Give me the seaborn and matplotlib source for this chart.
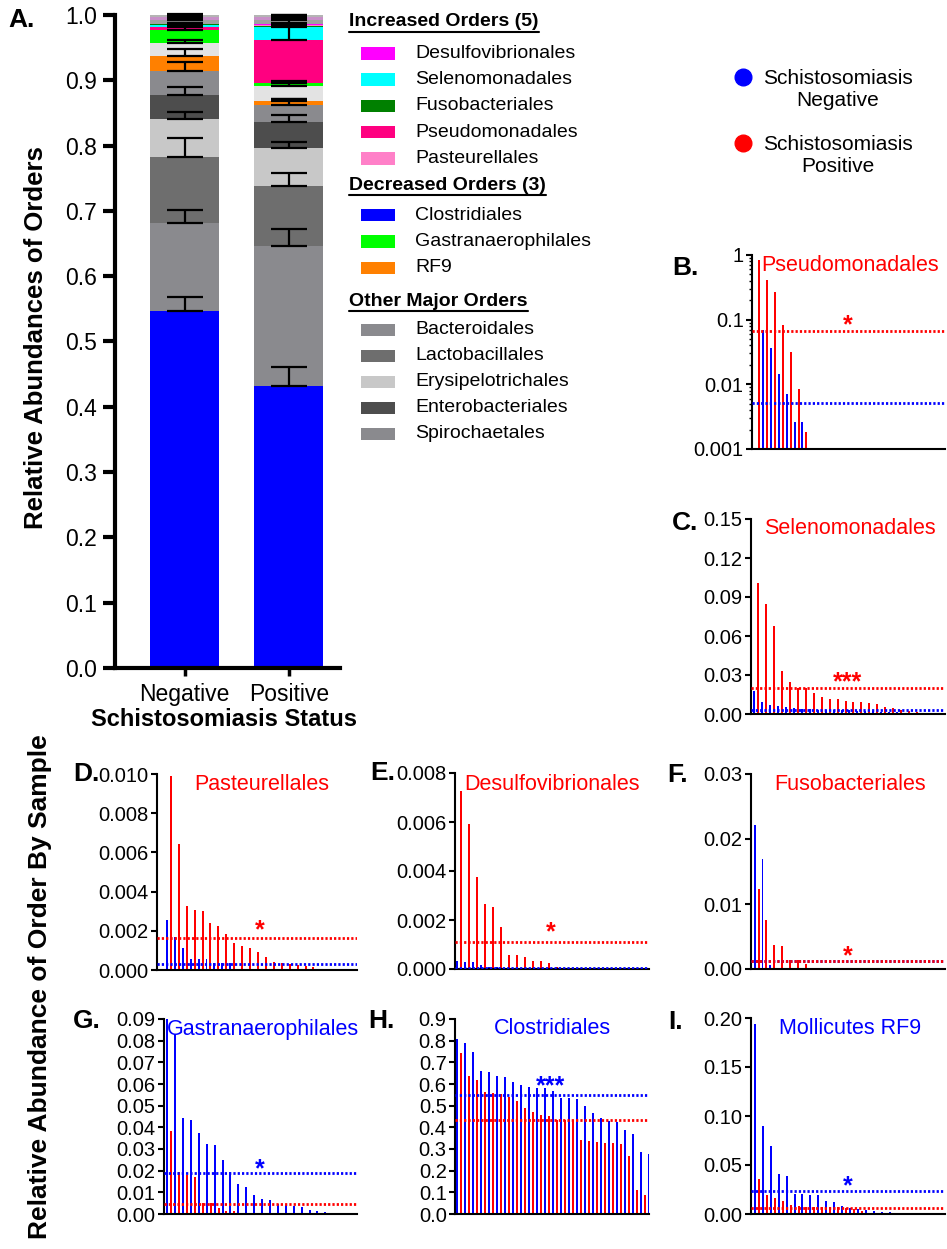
import numpy as np
import pandas as pd
import matplotlib
matplotlib.use("Agg")
import matplotlib.pyplot as plt
import seaborn as sns
from matplotlib.lines import Line2D
from matplotlib.patches import Rectangle
from matplotlib.ticker import FixedLocator, FixedFormatter, FormatStrFormatter, NullFormatter, LogLocator

W, H = 947, 1249
BLUE = "#0000ff"
RED = "#ff0000"

status = ["Negative", "Positive"]

# panel A: mean relative abundance of each order, stacked bottom -> top
orders = ["Clostridiales", "Bacteroidales", "Lactobacillales", "Erysipelotrichales",
          "Enterobacteriales", "Spirochaetales", "RF9", "Other", "Gastranaerophilales",
          "Pseudomonadales", "Selenomonadales", "Fusobacteriales", "Pasteurellales",
          "Desulfovibrionales", "Minor 1", "Minor 2", "Minor 3"]
neg_mean = [0.547, 0.135, 0.100, 0.058, 0.037, 0.037, 0.0235, 0.020, 0.019, 0.0052,
            0.0028, 0.0012, 0.00033, 0.00005, 0.006, 0.005, 0.003]
pos_mean = [0.432, 0.215, 0.091, 0.058, 0.040, 0.026, 0.0065, 0.023, 0.0045, 0.066,
            0.0197, 0.0013, 0.00165, 0.0011, 0.006, 0.005, 0.003]
neg_sem = [0.021, 0.020, 0.030, 0.011, 0.013, 0.014, 0.010, 0.004, 0.006, 0.004,
           0.003, 0.002, 0.0005, 0.0001, 0.003, 0.002, 0.001]
pos_sem = [0.029, 0.026, 0.020, 0.009, 0.011, 0.009, 0.003, 0.004, 0.003, 0.032,
           0.006, 0.002, 0.001, 0.001, 0.003, 0.002, 0.001]
order_colors = ["#0000ff", "#8a8a8e", "#6e6e6e", "#c8c8c8", "#4d4d4d", "#8a8a8e",
                "#ff8000", "#e3e3e3", "#00ff00", "#ff0080", "#00ffff", "#008000",
                "#ff80c8", "#ff00ff", "#a0a0a0", "#c890c8", "#b4b4b4"]

# legend of panel A
increased = ["Desulfovibrionales", "Selenomonadales", "Fusobacteriales", "Pseudomonadales", "Pasteurellales"]
decreased = ["Clostridiales", "Gastranaerophilales", "RF9"]
other_major = ["Bacteroidales", "Lactobacillales", "Erysipelotrichales", "Enterobacteriales", "Spirochaetales"]

# panels B-I: per-sample abundances, sorted (negative / positive)
pseudo_neg = [np.nan, 0.0695, 0.0362, 0.0144, 0.00706, 0.00258, 0.00257]
pseudo_pos = [0.837, 0.411, 0.272, 0.083, 0.0314, 0.00853, 0.00181]

seleno_neg = [0.0174, 0.0090, 0.0067, 0.0062, 0.0054, 0.0044, 0.0038, 0.0038, 0.0033, 0.0033,
              0.0030, 0.0028, 0.0028, 0.0025, 0.0022, 0.0020, 0.0018, 0.0015, 0.0012, 0.0010,
              0.0008, 0.0006, 0.0004, 0.0002]
seleno_pos = [0.101, 0.0846, 0.0674, 0.0333, 0.0244, 0.0200, 0.0197, 0.0160, 0.0130, 0.0118,
              0.0115, 0.0103, 0.0095, 0.0092, 0.0082, 0.0080, 0.0054, 0.0046, 0.0030, 0.0020,
              0.0018, 0.0008, 0.0003]

pasteur_neg = [0.00256, 0.0017, 0.0011, 0.00056, 0.00055, 0.00055, 0.00034, 0.00034, 0.00034]
pasteur_pos = [0.00988, 0.00644, 0.00324, 0.00308, 0.0030, 0.00239, 0.00227, 0.00182, 0.0014,
               0.00123, 0.0011, 0.00094, 0.00068, 0.00043, 0.00034, 0.0003, 0.00027, 0.00022, 0.00015]

desulfo_neg = [0.00031, 0.00029, 0.00027, 0.00018, 0.00008, 0.00007, 0.00004, 0.00004, 0.00003,
               0.00003, 0.00002, 0.00002, 0.00002, 0.00002, 0.00002, 0.00002, 0.00002, 0.00002,
               0.00002, 0.00002, 0.00002, 0.00002, 0.00002, 0.00002]
desulfo_pos = [0.00728, 0.0059, 0.00377, 0.00267, 0.00252, 0.0017, 0.00056, 0.00056, 0.00048,
               0.00033, 0.00033, 0.00024, 0.00008]

fuso_neg = [0.0222, 0.0170, 0.00067]
fuso_pos = [0.0123, 0.00754, 0.00374, 0.00349, 0.00144, 0.00144, 0.0008]

gastro_neg = [0.090, 0.083, 0.0442, 0.0435, 0.0373, 0.0323, 0.0320, 0.0250, 0.0194, 0.0138,
              0.0126, 0.0088, 0.0069, 0.0063, 0.0045, 0.0040, 0.0037, 0.0032, 0.0020, 0.0014, 0.0008]
gastro_pos = [0.0384, 0.0194, 0.0178, 0.0171, 0.0051, 0.0051, 0.0029, 0.0014, 0.0014, 0.0005]

clost_neg = [0.808, 0.790, 0.746, 0.660, 0.657, 0.637, 0.634, 0.608, 0.596, 0.585, 0.582, 0.582,
             0.568, 0.535, 0.535, 0.531, 0.500, 0.465, 0.445, 0.427, 0.424, 0.386, 0.370, 0.287, 0.275]
clost_pos = [0.745, 0.637, 0.619, 0.564, 0.558, 0.553, 0.538, 0.522, 0.487, 0.472, 0.458, 0.453,
             0.436, 0.436, 0.436, 0.340, 0.336, 0.333, 0.329, 0.327, 0.324, 0.267, 0.110, 0.090]

rf9_neg = [0.194, 0.0895, 0.069, 0.0412, 0.0384, 0.0207, 0.0201, 0.0194, 0.0194, 0.0133, 0.0119,
           0.0082, 0.0058, 0.0051, 0.0044, 0.0030, 0.0024, 0.0020, 0.0014, 0.0010, 0.0007]
rf9_pos = [0.0357, 0.0194, 0.0167, 0.0136, 0.0088, 0.0078, 0.0075, 0.0075, 0.0068, 0.0068,
           0.0068, 0.0058, 0.0051, 0.0034]

sns.set_style("ticks")
plt.rcParams["font.family"] = ["Liberation Sans", "DejaVu Sans"]
plt.rcParams["axes.linewidth"] = 1.5
for key in ["axes.edgecolor", "xtick.color", "ytick.color", "text.color", "axes.labelcolor"]:
    plt.rcParams[key] = "black"


def px(x, y):
    return x / W, 1 - y / H


def box(l, t, r, b):
    return [l / W, 1 - b / H, (r - l) / W, (b - t) / H]


fig = plt.figure(figsize=(W / 100, H / 100), dpi=100)

# ---------------- panel A ----------------
ax = fig.add_axes(box(115, 15, 340, 668))
neg_top = np.cumsum(neg_mean)
pos_top = np.cumsum(pos_mean)
# draw cumulative bars tallest first so each segment shows
for i in range(len(orders) - 1, -1, -1):
    sns.barplot(x=status, y=[neg_top[i], pos_top[i]], color=order_colors[i], width=0.66,
                saturation=1, errorbar=None, linewidth=0, ax=ax)
for i in range(len(orders)):
    ax.errorbar([0, 1], [neg_top[i], pos_top[i]],
                yerr=[[0, 0], [neg_sem[i], pos_sem[i]]], fmt="none", ecolor="black",
                elinewidth=1.6, capsize=13, capthick=1.6, zorder=5, clip_on=False)
ax.set_xlim(-0.666, 1.49)
ax.set_ylim(0, 1.0)
ax.yaxis.set_major_locator(FixedLocator(np.arange(0, 1.01, 0.1)))
ax.yaxis.set_major_formatter(FormatStrFormatter("%.1f"))
ax.tick_params(axis="y", labelsize=16.5, length=9, width=3, pad=4)
ax.tick_params(axis="x", labelsize=16.5, length=6, width=2.5, pad=5)
for s in ["left", "bottom"]:
    ax.spines[s].set_linewidth(3)
sns.despine(ax=ax)
ax.set_xlabel("")
ax.set_ylabel("")
fig.text(*px(224, 720), "Schistosomiasis Status", ha="center", va="center",
         fontsize=17, fontweight="bold")
fig.text(*px(36, 338), "Relative Abundances of Orders", ha="center", va="center",
         rotation=90, fontsize=18.5, fontweight="bold")
fig.text(*px(8, 20), "A.", ha="left", va="center", fontsize=19, fontweight="bold")

# legend for panel A
fig.canvas.draw()
renderer = fig.canvas.get_renderer()


def header(y, txt):
    t = fig.text(*px(349, y), txt, ha="left", va="center", fontsize=14, fontweight="bold")
    bb = t.get_window_extent(renderer=renderer)
    yl = 1 - (y + 10) / H
    fig.add_artist(Line2D([349 / W, bb.x1 / W], [yl, yl], color="black", lw=1.5,
                          transform=fig.transFigure))


def item(y, name, color):
    fig.add_artist(Rectangle(px(361, y + 6.3), 34 / W, 12.6 / H, color=color, lw=0,
                             transform=fig.transFigure))
    fig.text(*px(415, y), name, ha="left", va="center", fontsize=14)


header(22, "Increased Orders (5)")
for k, name in enumerate(increased):
    item(53.5 + 26.2 * k, name, order_colors[orders.index(name)])
header(185, "Decreased Orders (3)")
for k, name in enumerate(decreased):
    item(215 + 26.5 * k, name, order_colors[orders.index(name)])
header(301, "Other Major Orders")
for k, name in enumerate(other_major):
    item(330 + 26 * k, name, order_colors[orders.index(name)])

# group legend on the right
for y, col, txt in [(77, BLUE, "Schistosomiasis\nNegative"), (143, RED, "Schistosomiasis\nPositive")]:
    fig.add_artist(Line2D([743 / W], [1 - y / H], marker="o", ms=12, color=col, lw=0,
                          transform=fig.transFigure))
    fig.text(*px(838, y + 13), txt, ha="center", va="center", fontsize=15, linespacing=1.2)

# ---------------- panels B-I ----------------
panels = [
    dict(label="B.", lpos=(672, 268), title="Pseudomonadales", tpos=(850, 265), col=RED,
         neg=pseudo_neg, pos=pseudo_pos, order="Pseudomonadales", box=(752, 255, 945, 449),
         left=-0.75, log=True, ylim=(0.001, 1), ticks=[0.001, 0.01, 0.1, 1],
         fmt=["0.001", "0.01", "0.1", "1"], star="*", sy=0.103),
    dict(label="C.", lpos=(672, 523), title="Selenomonadales", tpos=(850, 529), col=RED,
         neg=seleno_neg, pos=seleno_pos, order="Selenomonadales", box=(751, 519, 945, 714),
         left=-0.75, ylim=(0, 0.15), ticks=np.arange(0, 0.151, 0.03), fmt="%.2f",
         star="***", sy=0.030),
    dict(label="D.", lpos=(73, 774), title="Pasteurellales", tpos=(262, 784), col=RED,
         neg=pasteur_neg, pos=pasteur_pos, order="Pasteurellales", box=(157, 774, 357, 970),
         left=-2.5, ylim=(0, 0.010), ticks=np.arange(0, 0.0101, 0.002), fmt="%.3f",
         star="*", sy=0.0024),
    dict(label="E.", lpos=(370, 773), title="Desulfovibrionales", tpos=(552, 784), col=RED,
         neg=desulfo_neg, pos=desulfo_pos, order="Desulfovibrionales", box=(455, 773, 649, 969),
         left=-0.4, ylim=(0, 0.008), ticks=np.arange(0, 0.0081, 0.002), fmt="%.3f",
         star="*", sy=0.00177),
    dict(label="F.", lpos=(667, 775), title="Fusobacteriales", tpos=(850, 784), col=RED,
         neg=fuso_neg, pos=fuso_pos, order="Fusobacteriales", box=(751, 774, 945, 969),
         left=-0.9, ylim=(0, 0.03), ticks=np.arange(0, 0.031, 0.01), fmt="%.2f",
         star="*", sy=0.003),
    dict(label="G.", lpos=(73, 1021), title="Gastranaerophilales", tpos=(263, 1029), col=BLUE,
         neg=gastro_neg, pos=gastro_pos, order="Gastranaerophilales", box=(164, 1019, 357, 1214),
         left=-0.8, ylim=(0, 0.09), ticks=np.arange(0, 0.091, 0.01), fmt="%.2f",
         star="*", sy=0.024),
    dict(label="H.", lpos=(368, 1021), title="Clostridiales", tpos=(552, 1029), col=BLUE,
         neg=clost_neg, pos=clost_pos, order="Clostridiales", box=(455, 1019, 649, 1214),
         left=-0.4, ylim=(0, 0.9), ticks=np.arange(0, 0.91, 0.1), fmt="%.1f",
         star="***", sy=0.622),
    dict(label="I.", lpos=(668, 1022), title="Mollicutes RF9", tpos=(850, 1029), col=BLUE,
         neg=rf9_neg, pos=rf9_pos, order="RF9", box=(751, 1018, 945, 1214),
         left=-1.0, ylim=(0, 0.20), ticks=np.arange(0, 0.201, 0.05), fmt="%.2f",
         star="*", sy=0.0357),
]

for p in panels:
    bx = fig.add_axes(box(*p["box"]))
    neg = np.asarray(p["neg"], dtype=float)
    pos = np.asarray(p["pos"], dtype=float)
    df = pd.DataFrame({
        "sample": np.r_[np.arange(len(neg)) * 2, np.arange(len(pos)) * 2 + 1],
        "abundance": np.r_[neg, pos],
        "status": ["Negative"] * len(neg) + ["Positive"] * len(pos),
    }).dropna()
    sns.barplot(data=df, x="sample", y="abundance", hue="status",
                palette={"Negative": BLUE, "Positive": RED}, native_scale=True,
                width=0.5, dodge=False, legend=False, saturation=1, errorbar=None,
                linewidth=0, ax=bx)
    k = orders.index(p["order"])
    bx.axhline(neg_mean[k], color=BLUE, lw=2, ls=(0, (0.8, 0.75)), zorder=4)
    bx.axhline(pos_mean[k], color=RED, lw=2, ls=(0, (0.8, 0.75)), zorder=4)
    if p.get("log"):
        bx.set_yscale("log")
        bx.set_ylim(*p["ylim"])
        bx.yaxis.set_major_locator(FixedLocator(p["ticks"]))
        bx.yaxis.set_major_formatter(FixedFormatter(p["fmt"]))
        bx.yaxis.set_minor_locator(LogLocator(base=10, subs=np.arange(2, 10)))
        bx.yaxis.set_minor_formatter(NullFormatter())
        bx.tick_params(axis="y", which="minor", length=2.5, width=1)
    else:
        bx.set_ylim(*p["ylim"])
        bx.yaxis.set_major_locator(FixedLocator(p["ticks"]))
        bx.yaxis.set_major_formatter(FormatStrFormatter(p["fmt"]))
    bx.set_xlim(p["left"], 48)
    bx.set_xticks([])
    bx.set_xlabel("")
    bx.set_ylabel("")
    bx.tick_params(axis="y", which="major", labelsize=14.5, length=4, width=1.5, pad=2)
    sns.despine(ax=bx)
    bx.annotate(p["star"], xy=(23.5, p["sy"]), xytext=(0, -10), textcoords="offset points",
                ha="center", va="baseline", color=p["col"], fontsize=18, fontweight="bold")
    fig.text(*px(*p["tpos"]), p["title"], ha="center", va="center", color=p["col"], fontsize=15.5)
    fig.text(*px(*p["lpos"]), p["label"], ha="left", va="center", fontsize=19, fontweight="bold")

fig.text(*px(40, 987), "Relative Abundance of Order By Sample", ha="center", va="center",
         rotation=90, fontsize=19, fontweight="bold")

fig.savefig("out.png", dpi=100)
